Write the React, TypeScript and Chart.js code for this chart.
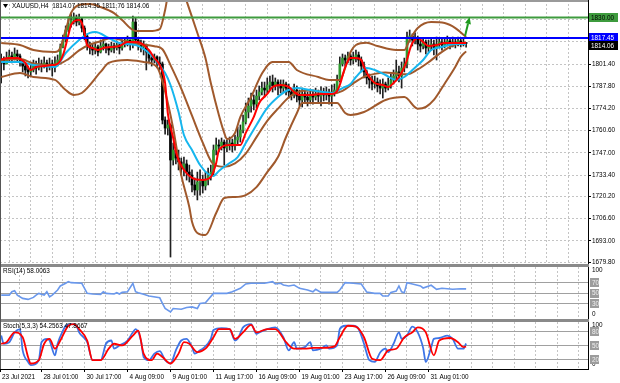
import React, { useEffect, useRef } from 'react';
import { Chart, registerables } from 'chart.js';

Chart.register(...registerables);

// ---------------- data ----------------
const symbolName = 'XAUUSD,H4';
const firstOpen = 1801.5;
const lastOpen = 1814.07;
const lastHigh = 1814.35;
const lastLow = 1811.76;

const closes = [
  1802.7,1803.9,1801.5,1805.1,1806.4,1805.1,1807.6,1806.4,1803.9,1800.2,1797.8,1796.6,1797.8,1800.2,1799.0,1801.5,1800.2,1802.1,1800.2,1801.5,1799.6,1802.1,1803.9,
  1811.9,1816.2,1822.3,1826.0,1828.4,1829.7,1827.2,1829.1,1823.5,1818.6,1813.1,1811.3,
  1810.0,1811.9,1808.8,1812.5,1813.7,1811.3,1810.0,1812.5,1811.3,1813.1,1811.3,1813.7,1814.9,1816.2,1813.7,1827.2,1816.2,1813.7,1811.9,1813.1,1808.8,1805.1,1803.9,
  1805.8,1802.1,1801.5,1767.1,1762.2,1764.1,1742.6,1748.7,1743.8,1741.4,1737.7,1740.2,1735.2,1733.4,1727.3,1724.2,1729.1,1730.3,1726.7,1730.3,1732.8,1735.2,1748.7,
  1751.8,1751.2,1753.6,1750.0,1751.8,1753.0,1751.2,1754.9,1756.7,
  1761.0,1765.9,1772.0,1775.7,1779.4,1776.9,1781.8,1784.3,1786.7,1785.5,
  1788.6,1790.4,1788.0,1790.4,1788.6,1786.7,1789.2,1786.7,1784.3,1782.5,
  1785.5,1781.8,1779.4,1783.1,1781.2,1779.4,1782.5,1781.2,1783.1,1781.8,
  1783.7,1782.5,1783.7,1781.8,1784.3,1785.5,1791.7,
  1801.5,1805.1,1803.9,1806.4,1803.9,1805.8,1807.0,1803.9,1800.2,1796.6,
  1792.9,1791.7,1789.2,1790.4,1788.0,1786.7,1789.2,1786.7,1788.6,1791.7,
  1794.1,1796.6,1794.1,1799.0,1801.5,1817.4,1818.6,1816.2,1817.4,1813.7,
  1812.5,1814.9,1811.3,1813.1,1813.7,1811.3,1813.7,1814.9,1813.1,1814.3,
  1815.6,1813.7,1814.9,1813.7,1815.6,1814.3,1814.9,1814.06,
];

const highs = [
  1807.0,1807.6,1805.8,1808.8,1810.0,1808.8,1811.3,1810.0,1807.6,1803.9,1801.5,1800.2,1801.5,1803.9,1803.3,1805.1,1803.9,1805.8,1803.9,1805.1,1803.9,1805.8,1807.0,
  1813.7,1819.2,1824.8,1830.3,1832.1,1832.7,1831.5,1832.1,1829.7,1824.8,1819.9,1814.9,
  1813.7,1814.9,1813.1,1816.2,1817.4,1814.3,1813.7,1814.9,1814.3,1815.6,1814.3,1816.2,1817.4,1818.6,1816.2,1830.9,1829.7,1817.4,1816.2,1815.6,1813.7,1810.0,1807.0,
  1807.6,1806.4,1805.8,1802.7,1769.0,1767.1,1764.7,1753.0,1750.0,1748.7,1743.8,1744.4,1742.6,1739.5,1736.5,1731.6,1735.2,1736.5,1733.4,1735.2,1737.7,1739.5,1751.8,
  1756.1,1754.9,1756.1,1754.9,1754.9,1756.7,1755.5,1757.9,1762.8,
  1764.1,1770.2,1777.6,1780.6,1783.7,1782.5,1785.5,1788.0,1790.4,1790.4,
  1792.9,1794.1,1794.7,1792.9,1791.7,1791.7,1791.7,1790.4,1789.2,1786.7,
  1789.2,1788.0,1785.5,1786.7,1785.5,1784.3,1786.1,1785.5,1786.7,1785.5,
  1787.4,1786.7,1787.4,1786.1,1788.6,1789.2,1794.7,
  1805.8,1807.6,1807.0,1808.8,1807.6,1808.8,1810.0,1808.8,1805.8,1802.7,
  1797.8,1795.3,1794.1,1794.1,1792.9,1791.7,1792.3,1790.4,1792.9,1795.3,
  1797.8,1803.9,1800.2,1802.7,1805.1,1821.1,1822.3,1819.9,1820.5,1818.6,
  1816.2,1817.4,1816.2,1816.2,1817.4,1816.2,1818.0,1817.4,1816.8,1817.4,
  1818.6,1817.4,1818.0,1816.8,1818.0,1817.4,1817.4,1814.35,
];

const lows = [
  1797.8,1789.8,1797.8,1801.5,1802.7,1802.1,1803.9,1802.7,1800.2,1796.6,1794.1,1792.9,1794.1,1796.6,1795.3,1797.8,1796.6,1799.0,1796.6,1797.8,1794.1,1796.6,1800.2,
  1802.7,1811.3,1814.9,1821.1,1824.1,1826.0,1824.8,1825.4,1821.1,1816.2,1810.0,1807.6,
  1807.0,1807.6,1806.4,1808.2,1810.0,1808.2,1807.0,1808.8,1808.2,1810.0,1807.6,1810.0,1811.9,1812.5,1810.0,1811.3,1813.7,1810.0,1808.8,1807.0,1797.8,1802.1,1800.2,
  1802.1,1799.0,1797.8,1764.7,1758.5,1757.9,1683.1,1739.5,1740.2,1736.5,1733.4,1732.8,1730.3,1729.1,1723.0,1721.1,1718.1,1721.1,1722.4,1724.2,1727.3,1730.3,1732.8,
  1745.7,1747.5,1748.7,1739.5,1747.5,1748.7,1747.5,1748.7,1751.8,
  1753.6,1759.2,1764.7,1768.4,1772.0,1773.3,1774.5,1779.4,1782.5,1781.2,
  1783.7,1785.5,1784.3,1785.5,1782.5,1783.7,1784.3,1782.5,1780.6,1779.4,
  1780.6,1778.2,1775.7,1775.1,1777.6,1775.7,1778.2,1776.9,1779.4,1778.2,
  1775.7,1778.8,1779.4,1776.9,1775.7,1781.8,1784.3,
  1790.4,1800.2,1800.2,1802.1,1800.8,1801.5,1802.7,1800.2,1796.6,1792.9,
  1789.2,1786.7,1785.5,1786.7,1784.3,1783.1,1780.6,1784.3,1785.5,1786.7,
  1789.2,1791.7,1790.4,1786.7,1796.6,1799.0,1814.9,1812.5,1813.7,1810.0,
  1808.8,1810.7,1807.6,1808.8,1810.0,1807.0,1803.9,1811.3,1810.0,1811.3,
  1812.5,1810.7,1811.9,1811.3,1812.5,1811.9,1812.5,1811.76,
];

// indicator lines: [bar index, price]
const fastMa = [
  [0,1803.9],[4,1805.1],[7,1805.1],[10,1802.1],[12,1797.8],[14,1799.6],[17,1800.2],[20,1800.8],[22,1801.5],[24,1807.0],[26,1819.2],[27,1825.4],[30,1828.4],[31,1826.6],[32,1820.5],[33,1813.1],[35,1811.3],[37,1810.0],[39,1811.3],[42,1811.9],[45,1812.5],[48,1814.9],[51,1814.9],[53,1814.3],[56,1810.0],[58,1805.1],[60,1800.8],[62,1789.8],[63,1771.4],[64,1762.8],[65,1756.1],[66,1747.5],[67,1742.6],[69,1736.5],[72,1731.6],[76,1730.3],[79,1732.2],[81,1740.8],[82,1748.7],[86,1751.8],[90,1751.8],[92,1759.2],[95,1769.0],[97,1777.6],[100,1783.1],[102,1787.4],[105,1788.6],[108,1787.4],[110,1784.3],[112,1782.5],[116,1782.5],[120,1783.1],[124,1783.1],[126,1784.9],[127,1788.6],[128,1794.1],[129,1799.6],[131,1805.1],[133,1805.1],[135,1803.9],[136,1799.6],[138,1793.5],[140,1789.8],[143,1788.6],[145,1787.4],[147,1789.8],[149,1793.5],[151,1799.6],[152,1803.9],[153,1810.0],[154,1814.3],[156,1817.4],[158,1814.9],[160,1812.5],[163,1813.1],[166,1814.3],[170,1814.3],[174,1814.3],
];
const slowMa = [
  [1,1802.7],[8,1802.7],[13,1800.8],[21,1799.6],[25,1808.2],[30,1816.2],[34,1820.5],[36,1821.1],[41,1817.4],[45,1814.3],[51,1813.1],[56,1808.2],[59,1802.7],[62,1795.9],[64,1788.6],[67,1772.0],[69,1757.9],[72,1748.7],[75,1739.5],[78,1734.0],[80,1732.8],[82,1735.9],[86,1740.8],[89,1744.4],[92,1753.0],[96,1764.1],[100,1774.5],[104,1781.2],[107,1784.9],[111,1786.7],[116,1785.5],[121,1784.3],[124,1783.7],[128,1786.7],[131,1789.2],[133,1793.5],[137,1799.0],[140,1797.8],[144,1794.7],[148,1791.7],[151,1793.5],[154,1797.8],[158,1803.9],[161,1810.0],[165,1811.9],[170,1813.7],[174,1813.7],
];
const bandUpper = [
  [1,1814.3],[8,1813.1],[13,1810.0],[21,1808.8],[23,1811.3],[25,1822.3],[27,1832.7],[30,1837.6],[34,1838.2],[38,1836.4],[43,1832.7],[46,1828.4],[49,1823.5],[51,1821.7],[56,1821.7],[60,1822.9],[62,1834.6],[63,1843],[65,1847],[67,1848],[69,1845],[70,1840],[74,1820.5],[77,1805.1],[79,1789.8],[82,1770.2],[84,1759.2],[85,1755.5],[88,1759.2],[90,1769.0],[94,1781.2],[98,1795.5],[102,1802.7],[108,1802.7],[111,1797.8],[119,1793.5],[123,1791.7],[127,1791.7],[129,1799.0],[131,1808.8],[133,1813.1],[137,1814.5],[141,1812.5],[148,1810.0],[151,1810.0],[153,1816.2],[156,1823.5],[161,1827.2],[166,1826.6],[170,1823.5],[174,1818.0],
];
const bandMiddle = [
  [1,1803.9],[8,1804.5],[13,1801.8],[21,1800.8],[26,1804.5],[30,1809.8],[34,1813.4],[38,1815.4],[42,1817.4],[46,1816.1],[50,1813.9],[54,1813.4],[58,1812.4],[61,1810.5],[64,1800.8],[68,1786.4],[72,1769.8],[76,1753.3],[80,1740.0],[84,1738.5],[88,1740.5],[92,1746.5],[96,1756.6],[100,1766.6],[104,1774.1],[108,1780.9],[112,1784.6],[116,1785.2],[120,1784.4],[124,1783.2],[128,1785.0],[132,1789.6],[136,1793.6],[140,1795.4],[144,1796.3],[148,1795.6],[152,1795.2],[156,1798.1],[160,1802.5],[164,1807.7],[168,1812.0],[172,1814.3],[174,1814.6],
];
const bandLower = [
  [1,1793.5],[8,1795.9],[13,1793.5],[21,1791.7],[25,1785.5],[28,1782.5],[31,1783.7],[38,1796.6],[41,1802.1],[48,1803.9],[54,1802.7],[59,1799.6],[62,1784.5],[65,1762.0],[68,1733.3],[71,1713.8],[72,1704.8],[74,1697.9],[77,1696.6],[81,1710.1],[84,1719.3],[88,1719.9],[92,1721.1],[96,1726.0],[100,1735.2],[104,1744.4],[107,1756.7],[111,1771.3],[113,1777.6],[126,1777.6],[129,1771.4],[131,1770.2],[136,1772.0],[144,1779.4],[151,1781.2],[156,1774.1],[159,1775.1],[162,1779.4],[166,1789.4],[170,1799.8],[172,1805.8],[174,1809.2],
];

const resistanceLevel = 1830.0;
const blueLevel = 1817.45;
const arrowFrom = [173.6, 1818.6];
const arrowTo = [175.3, 1830.3];

const rsiLine = [
  [1,46],[4,46],[5,52.4],[6,54.4],[7,46],[9,39.6],[11,37.7],[13,41.5],[14,46],[15,49.3],[17,46],[18,52.4],[19,42.7],[20,46],[22,55.7],[23,63.5],[25,68.7],[26,71.9],[27,69.9],[31,68.7],[33,49.3],[35,48],[38,47.4],[39,52.4],[40,49.3],[43,48],[44,50.5],[45,48],[46,51.2],[48,52.4],[50,68.7],[51,52.4],[52,50.5],[54,47.4],[56,44.1],[60,40.8],[61,29.9],[62,20.2],[64,13.6],[65,20.2],[68,18.8],[70,22.1],[72,23.3],[74,20.2],[75,29.9],[77,31.1],[80,49.3],[85,49.3],[87,52.4],[90,59],[92,67.4],[94,68.7],[96,68.7],[99,68.7],[102,71.9],[103,67.4],[105,68.7],[106,65.4],[108,63.5],[110,65.4],[112,59],[115,55.7],[117,52.4],[118,57.1],[120,51.2],[123,51.2],[126,51.2],[127,55.7],[129,69.9],[132,68.7],[135,67.4],[137,51.8],[140,49.3],[142,49.3],[143,44.1],[145,44.1],[146,51.2],[148,53.8],[149,63.5],[150,52.4],[151,50.5],[152,69.9],[154,67.4],[157,63.5],[158,59.6],[161,64.9],[163,57.1],[165,59],[167,58.3],[169,57.1],[172,58.3],[174,58.0],
];
const stochMain = [
  [1,71.1],[2,53.7],[4,57],[6,78],[8,85],[9,39.6],[11,15.1],[12,8.2],[15,18.7],[16,57],[18,64.2],[19,60.6],[21,29.1],[22,53.7],[24,81.5],[25,92],[27,95.6],[29,92],[30,78],[33,57],[35,18.7],[38,18.7],[40,53.7],[42,60.6],[43,43.2],[45,50.1],[48,60.6],[50,78],[51,85],[53,60.6],[54,25.6],[56,18.7],[58,32.7],[60,38],[62,18.7],[64,11.7],[66,39.6],[68,60.6],[70,64.2],[72,46.5],[73,32.7],[75,39.6],[76,43.2],[79,64.2],[80,82.8],[83,87],[86,85],[88,60.6],[89,64.2],[91,88.5],[94,95.6],[96,74.6],[97,78],[100,85],[103,88.5],[106,67.5],[108,39.6],[110,57],[111,43.2],[114,46.5],[116,57],[117,39.6],[120,43.2],[122,50.1],[123,43.2],[126,50.1],[127,85],[129,92],[132,92],[134,85],[136,53.7],[138,18.7],[140,15.1],[142,35],[144,43.2],[145,36],[147,53.7],[149,78],[150,64.2],[152,71.1],[154,90],[156,78],[158,45],[159,15],[161,46.5],[162,64.2],[164,66],[167,71.1],[169,64.2],[171,43.2],[173,43.2],[174,54.26],
];
const stochSignal = [
  [1,53.7],[3,57],[6,78],[9,67.5],[11,25.6],[12,11.7],[15,18.7],[17,53.7],[19,64.2],[21,43.2],[23,60.6],[26,92],[28,95.6],[30,85],[33,60.6],[35,18.7],[38,18.7],[41,43.2],[43,53.7],[46,50.1],[50,71.1],[52,81.5],[54,32.7],[57,18.7],[59,32.7],[61,25.6],[64,11.7],[67,32.7],[69,57],[71,53.7],[74,36],[77,43.2],[80,67.5],[82,85],[86,85],[88,64.2],[91,78],[94,94],[96,78],[100,85],[103,85],[107,57],[110,43.2],[114,43.2],[117,45],[121,45],[125,48],[127,67.5],[130,92],[133,90],[136,67.5],[139,22],[142,18.7],[145,39.6],[148,43.2],[151,67.5],[154,78],[156,88.5],[159,78],[162,29.1],[164,60.6],[168,66],[171,57],[173,46.5],[174,47.87],
];
const rsiReading = '58.0063';
const stochReading = ['54.2563', '47.8667'];

const priceTicks = [1828.6, 1815.0, 1801.4, 1787.8, 1774.2, 1760.6, 1747.0, 1733.4, 1720.2, 1706.6, 1693.0, 1679.8];
const timeLabels = ['23 Jul 2021', '28 Jul 01:00', '30 Jul 17:00', '4 Aug 09:00', '9 Aug 01:00', '11 Aug 17:00', '16 Aug 09:00', '19 Aug 01:00', '23 Aug 17:00', '26 Aug 09:00', '31 Aug 01:00'];
const rsiLevels = [30, 50, 70];
const stochLevels = [20, 50, 80];

// ---------------- layout / style ----------------
const W = 620;
const AXIS_W = 32;
const X_MIN = 0.56;
const X_MAX = 219.35;
const PRICE_MIN = 1678.84;
const PRICE_MAX = 1840.7;
const MAIN_TOP = 0, MAIN_H = 264;
const RSI_TOP = 267, RSI_H = 52;
const ST_TOP = 322, ST_H = 47, TIME_H = 14;
const GRID_STEP = 8, LABEL_STEP = 16;

const FONT = '"Liberation Sans", Arial, sans-serif';
const FS = 6.4;
const GRID = '#c4c4c4';
const LEVEL = '#a0a0a0';
const BULL = '#2f9a2f';
const BEAR = '#000000';
const WICK = '#202020';
const RED = '#ff0000';
const CYAN = '#16b6ee';
const BROWN = '#a0592c';

const gridTicks: number[] = [X_MIN];
for (let b = GRID_STEP; b < X_MAX; b += GRID_STEP) gridTicks.push(b);

const labelFor = (v: number) => {
  if (Math.abs(v - X_MIN) < 1e-6) return timeLabels[0];
  if (v % LABEL_STEP === 0) return timeLabels[v / LABEL_STEP] ?? '';
  return '';
};

const xAxis = (withLabels: boolean) => ({
  type: 'linear',
  min: X_MIN,
  max: X_MAX,
  offset: false,
  afterBuildTicks: (s: any) => { s.ticks = gridTicks.map((v) => ({ value: v })); },
  afterFit: (s: any) => { s.height = withLabels ? TIME_H : 0; s.paddingLeft = 0; s.paddingRight = 0; },
  grid: {
    display: true,
    color: (c: any) => (c.tick && Math.abs(c.tick.value - X_MIN) < 1e-6 ? 'rgba(0,0,0,0)' : GRID),
    lineWidth: 1,
    drawTicks: withLabels,
    tickLength: 3,
    tickColor: (c: any) => (c.tick && labelFor(c.tick.value) ? '#000' : 'rgba(0,0,0,0)'),
  },
  border: { display: withLabels, color: '#000', width: 1, dash: [2, 2] },
  ticks: {
    display: withLabels,
    autoSkip: false,
    maxRotation: 0,
    minRotation: 0,
    align: 'start',
    labelOffset: 2,
    padding: 1,
    color: '#000',
    font: { family: FONT, size: FS },
    callback: (v: any) => labelFor(Number(v)),
  },
});

const pts = (arr: number[][]) => arr.map(([x, y]) => ({ x, y }));
const line = (arr: number[][], color: string, width: number, order: number, smooth = true) => ({
  type: 'line',
  data: pts(arr),
  borderColor: color,
  borderWidth: width,
  pointRadius: 0,
  fill: false,
  cubicInterpolationMode: smooth ? 'monotone' : 'default',
  tension: 0,
  order,
});

const drawText = (ctx: any, text: string, x: number, y: number, color = '#000', align = 'left') => {
  ctx.save();
  ctx.font = `${FS}px ${FONT}`;
  ctx.fillStyle = color;
  ctx.textAlign = align;
  ctx.textBaseline = 'middle';
  ctx.fillText(text, x, y);
  ctx.restore();
};

const tagBox = (ctx: any, text: string, x: number, y: number, w: number, bg: string, fg: string) => {
  ctx.save();
  ctx.fillStyle = bg;
  ctx.fillRect(x, Math.round(y - 4.5), w, 9);
  ctx.restore();
  drawText(ctx, text, x + 2, y + 0.5, fg);
};

const baseOptions = {
  animation: false,
  responsive: false,
  maintainAspectRatio: false,
  devicePixelRatio: 1,
  events: [],
  layout: { padding: 0 },
  plugins: { legend: { display: false }, tooltip: { enabled: false } },
};

function mainConfig(): any {
  const opens = closes.map((_, i) => (i === 0 ? firstOpen : i === closes.length - 1 ? lastOpen : closes[i - 1]));
  const wickData = closes.map((c, i) => ({ x: i, y: [Math.min(lows[i], opens[i], c), Math.max(highs[i], opens[i], c)] }));
  const bodyData = closes.map((c, i) => ({ x: i, y: [opens[i], c] }));
  const bodyColors = closes.map((c, i) => (c >= opens[i] ? BULL : BEAR));
  const lastClose = closes[closes.length - 1];

  const overlay = {
    id: 'mainOverlay',
    afterDatasetsDraw(chart: any) {
      const { ctx, scales } = chart;
      const x1 = scales.x.getPixelForValue(arrowFrom[0]);
      const y1 = scales.y.getPixelForValue(arrowFrom[1]);
      const x2 = scales.x.getPixelForValue(arrowTo[0]);
      const y2 = scales.y.getPixelForValue(arrowTo[1]);
      const ang = Math.atan2(y2 - y1, x2 - x1);
      const hl = 7;
      const bx = x2 - hl * Math.cos(ang);
      const by = y2 - hl * Math.sin(ang);
      ctx.save();
      ctx.strokeStyle = '#1f9a1f';
      ctx.fillStyle = '#1f9a1f';
      ctx.lineWidth = 2;
      ctx.beginPath(); ctx.moveTo(x1, y1); ctx.lineTo(bx, by); ctx.stroke();
      ctx.beginPath();
      ctx.moveTo(x2, y2);
      ctx.lineTo(bx + 3 * Math.sin(ang), by - 3 * Math.cos(ang));
      ctx.lineTo(bx - 3 * Math.sin(ang), by + 3 * Math.cos(ang));
      ctx.closePath(); ctx.fill();
      ctx.restore();
    },
    afterDraw(chart: any) {
      const { ctx, scales, chartArea } = chart;
      const ax = chartArea.right + 1;
      tagBox(ctx, resistanceLevel.toFixed(2), ax, scales.y.getPixelForValue(resistanceLevel), 29, '#3e9b3e', '#000');
      tagBox(ctx, blueLevel.toFixed(2), ax, scales.y.getPixelForValue(blueLevel), 29, '#0000ff', '#fff');
      tagBox(ctx, lastClose.toFixed(2), ax, scales.y.getPixelForValue(lastClose) + 2, 29, '#000', '#fff');
      ctx.save();
      ctx.fillStyle = '#000';
      ctx.beginPath(); ctx.moveTo(3, 4); ctx.lineTo(8, 4); ctx.lineTo(5.5, 8); ctx.closePath(); ctx.fill();
      ctx.restore();
      drawText(ctx, `${symbolName}  ${lastOpen.toFixed(2)} ${lastHigh.toFixed(2)} ${lastLow.toFixed(2)} ${lastClose.toFixed(2)}`, 12, 6);
    },
  };

  return {
    type: 'bar',
    data: {
      datasets: [
        { type: 'bar', data: wickData, backgroundColor: WICK, barThickness: 1, grouped: false, order: 20, borderWidth: 0 },
        { type: 'bar', data: bodyData, backgroundColor: bodyColors, barThickness: 2, grouped: false, order: 19, borderWidth: 0, minBarLength: 1 },
        line(bandUpper, BROWN, 2, 8),
        line(bandMiddle, BROWN, 2, 8),
        line(bandLower, BROWN, 2, 8),
        line(slowMa, CYAN, 2, 6),
        line(fastMa, RED, 2, 5),
        line([[X_MIN, resistanceLevel], [X_MAX, resistanceLevel]], '#3e9b3e', 2, 2, false),
        line([[X_MIN, blueLevel], [X_MAX, blueLevel]], '#0000ff', 2, 1, false),
      ],
    },
    options: {
      ...baseOptions,
      scales: {
        x: xAxis(false),
        y: {
          type: 'linear',
          position: 'right',
          min: PRICE_MIN,
          max: PRICE_MAX,
          afterBuildTicks: (s: any) => { s.ticks = priceTicks.map((v) => ({ value: v })); },
          afterFit: (s: any) => { s.width = AXIS_W; s.paddingTop = 0; s.paddingBottom = 0; },
          grid: { color: GRID, drawTicks: true, tickLength: 3, tickColor: '#000' },
          border: { display: true, color: '#000', width: 1, dash: [2, 2] },
          ticks: { padding: 1, color: '#000', font: { family: FONT, size: FS }, callback: (v: any) => Number(v).toFixed(2) },
        },
      },
    },
    plugins: [overlay],
  };
}

function oscConfig(kind: 'rsi' | 'stoch'): any {
  const levels = kind === 'rsi' ? rsiLevels : stochLevels;
  const overlay = {
    id: kind + 'Overlay',
    afterDraw(chart: any) {
      const { ctx, scales, chartArea } = chart;
      const ax = chartArea.right + 3;
      if (kind === 'rsi') drawText(ctx, `RSI(14) ${rsiReading}`, 3, 4);
      else drawText(ctx, `Stoch(5,3,3) ${stochReading[0]} ${stochReading[1]}`, 3, 4);
      drawText(ctx, '100', ax + 1, chartArea.top + 3);
      drawText(ctx, '0', ax + 1, chartArea.bottom - 5);
      levels.forEach((lv) => tagBox(ctx, String(lv), ax - 1, scales.y.getPixelForValue(lv), 9, '#9c9c9c', '#efefef'));
    },
  };
  const datasets = kind === 'rsi'
    ? [line(rsiLine, '#6a98ec', 1.6, 2, false)]
    : [line(stochSignal, RED, 1.8, 2, true), line(stochMain, '#3d74e6', 1.8, 3, true)];
  return {
    type: 'line',
    data: { datasets },
    options: {
      ...baseOptions,
      scales: {
        x: xAxis(kind === 'stoch'),
        y: {
          type: 'linear',
          position: 'right',
          min: 0,
          max: 100,
          afterBuildTicks: (s: any) => { s.ticks = levels.map((v) => ({ value: v })); },
          afterFit: (s: any) => { s.width = AXIS_W; s.paddingTop = 0; s.paddingBottom = 0; },
          grid: { color: LEVEL, drawTicks: false },
          border: { display: true, color: '#000', width: 1 },
          ticks: { display: false },
        },
      },
    },
    plugins: [overlay],
  };
}

export default function App() {
  const mainRef = useRef<HTMLCanvasElement>(null);
  const rsiRef = useRef<HTMLCanvasElement>(null);
  const stRef = useRef<HTMLCanvasElement>(null);

  useEffect(() => {
    document.body.style.margin = '0';
    const charts = [
      new Chart(mainRef.current as HTMLCanvasElement, mainConfig()),
      new Chart(rsiRef.current as HTMLCanvasElement, oscConfig('rsi')),
      new Chart(stRef.current as HTMLCanvasElement, oscConfig('stoch')),
    ];
    return () => charts.forEach((c) => c.destroy());
  }, []);

  const abs = (top: number, h: number): any => ({ position: 'absolute', left: 0, top, width: W, height: h });
  return (
    <div style={{ position: 'absolute', left: 0, top: 0, width: W, height: 383, background: '#fff', overflow: 'hidden' }}>
      <canvas ref={mainRef} width={W} height={MAIN_H} style={abs(MAIN_TOP, MAIN_H)} />
      <canvas ref={rsiRef} width={W} height={RSI_H} style={abs(RSI_TOP, RSI_H)} />
      <canvas ref={stRef} width={W} height={ST_H + TIME_H} style={abs(ST_TOP, ST_H + TIME_H)} />
      <div style={{ position: 'absolute', left: 0, top: 0, width: W - AXIS_W, height: 2, background: '#9a9a9a' }} />
      <div style={{ position: 'absolute', left: 0, top: 264, width: W - AXIS_W + 1, height: 3, background: '#8a8a8a' }} />
      <div style={{ position: 'absolute', left: 0, top: 319, width: W - AXIS_W + 1, height: 3, background: '#8a8a8a' }} />
      <div style={{ position: 'absolute', left: 0, top: 0, width: 1, height: ST_TOP + ST_H, background: '#555' }} />
    </div>
  );
}
